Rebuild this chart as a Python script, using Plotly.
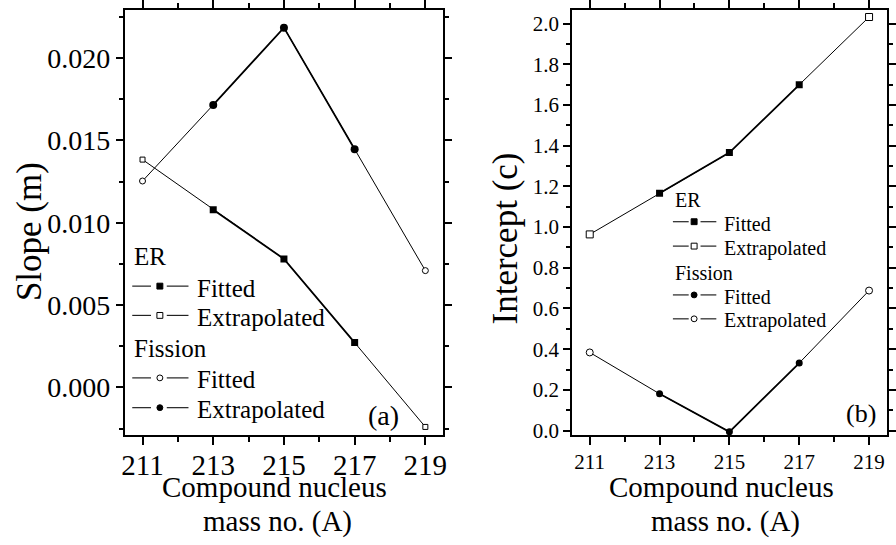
import plotly.graph_objects as go

W, H = 896, 545
SERIF = "Liberation Serif, Times New Roman, serif"

# Compound-nucleus mass numbers; points 1..3 are fitted, the two ends extrapolated
mass = [211, 213, 215, 217, 219]
fitted_idx = [1, 2, 3]
extrap_idx = [0, 4]

# Panel (a): slope m
slope_er = [0.01383, 0.01079, 0.00780, 0.00272, -0.00240]
slope_fission = [0.01253, 0.01715, 0.02184, 0.01446, 0.00709]

# Panel (b): intercept c
icpt_er = [0.964, 1.166, 1.366, 1.699, 2.032]
icpt_fission = [0.384, 0.181, -0.006, 0.332, 0.688]

x_ticks = [211, 213, 215, 217, 219]
x_tick_text = ["211", "213", "215", "217", "219"]


def px_x(px):
    return px / W


def px_y(py):
    return 1 - py / H


fig = go.Figure()


def add_series(xa, ya, yvals, filled_symbol, open_symbol, fsize, osize):
    # thin line through all points
    fig.add_trace(go.Scatter(x=mass, y=yvals, mode="lines", xaxis=xa, yaxis=ya,
                             line=dict(color="black", width=1.0), showlegend=False,
                             hoverinfo="skip"))
    # heavier line over the fitted range
    fig.add_trace(go.Scatter(x=[mass[i] for i in fitted_idx], y=[yvals[i] for i in fitted_idx],
                             mode="lines", xaxis=xa, yaxis=ya,
                             line=dict(color="black", width=1.8), showlegend=False,
                             hoverinfo="skip"))
    # fitted points: filled symbols
    fig.add_trace(go.Scatter(x=[mass[i] for i in fitted_idx], y=[yvals[i] for i in fitted_idx],
                             mode="markers", xaxis=xa, yaxis=ya,
                             marker=dict(symbol=filled_symbol, size=fsize, color="black",
                                         line=dict(color="black", width=0)),
                             showlegend=False))
    # extrapolated points: open symbols
    fig.add_trace(go.Scatter(x=[mass[i] for i in extrap_idx], y=[yvals[i] for i in extrap_idx],
                             mode="markers", xaxis=xa, yaxis=ya,
                             marker=dict(symbol=open_symbol, size=osize, color="white",
                                         line=dict(color="black", width=1)),
                             showlegend=False))


add_series("x", "y", slope_er, "square", "square", 7, 5)
add_series("x", "y", slope_fission, "circle", "circle", 8, 6)
add_series("x2", "y2", icpt_er, "square", "square", 7, 7)
add_series("x2", "y2", icpt_fission, "circle", "circle", 7, 7)

axis_common = dict(showline=True, linecolor="black", linewidth=2, mirror="allticks",
                   ticks="outside", tickcolor="black", tickwidth=1.5,
                   showgrid=False, zeroline=False)

fig.update_layout(
    width=W, height=H,
    margin=dict(l=0, r=0, t=0, b=0),
    paper_bgcolor="white", plot_bgcolor="white",
    showlegend=False,
    font=dict(family=SERIF, color="black"),
    xaxis=dict(domain=[px_x(123.5), px_x(446)], range=[210.5, 219.5], anchor="y",
               tickvals=x_ticks, ticktext=x_tick_text, ticklen=8, ticklabelstandoff=-4,
               minor=dict(dtick=1, tick0=210, ticklen=5, ticks="outside", tickcolor="black", tickwidth=1.5),
               tickfont=dict(size=29, family=SERIF), **axis_common),
    yaxis=dict(domain=[px_y(440), px_y(5)], range=[-0.00286, 0.02292], anchor="x",
               dtick=0.005, tick0=0, tickformat=".3f", ticklen=7,
               minor=dict(dtick=0.0025, ticklen=4, ticks="outside", tickcolor="black", tickwidth=1.5),
               tickfont=dict(size=28, family=SERIF), **axis_common),
    xaxis2=dict(domain=[px_x(577), px_x(895.5)], range=[210.5, 219.5], anchor="y2",
                tickvals=x_ticks, ticktext=x_tick_text, ticklen=8, ticklabelstandoff=-1,
                minor=dict(dtick=1, tick0=210, ticklen=5, ticks="outside", tickcolor="black", tickwidth=1.5),
                tickfont=dict(size=21, family=SERIF), **axis_common),
    yaxis2=dict(domain=[px_y(440.7), px_y(5)], range=[-0.0225, 2.067], anchor="x2",
                dtick=0.2, tick0=0, tickformat=".1f", ticklen=7,
                minor=dict(dtick=0.1, ticklen=4, ticks="outside", tickcolor="black", tickwidth=1.5),
                tickfont=dict(size=21, family=SERIF), **axis_common),
)

annotations = []
shapes = []


def text_at(px, py, text, size, xanchor="center", angle=0):
    annotations.append(dict(x=px_x(px), y=px_y(py), xref="paper", yref="paper",
                            text=text, showarrow=False, xanchor=xanchor, yanchor="middle",
                            textangle=angle, font=dict(family=SERIF, size=size, color="black")))


# axis titles
text_at(27, 232, "Slope (m)", 35, angle=-90)
text_at(275, 494, "Compound nucleus", 29)
text_at(278.5, 529, "mass no. (A)", 29)
text_at(509, 239, "Intercept (c)", 35, angle=-90)
text_at(728.5, 494, "Compound nucleus", 29)
text_at(732, 529, "mass no. (A)", 29)

# panel tags
text_at(385.5, 421, "(a)", 28)
text_at(870, 418, "(b)", 26)


def legend_block(rows, heads, entries, x0, d1, mx, d2, tx, size, msize):
    # rows: y pixel of each line; group headings sit on rows 0 and 3
    ys = rows
    text_at(x0, ys[0] + 2, heads[0], size, xanchor="left")
    text_at(x0, ys[3] + 2, heads[1], size, xanchor="left")
    for (label, kind, filled), py in zip(entries, [ys[1], ys[2], ys[4], ys[5]]):
        for a, b in (d1, d2):
            shapes.append(dict(type="line", xref="paper", yref="paper",
                               x0=px_x(a), x1=px_x(b), y0=px_y(py), y1=px_y(py),
                               line=dict(color="#222", width=1.2)))
        half = msize / 2
        shapes.append(dict(type="rect" if kind == "square" else "circle",
                           xref="paper", yref="paper",
                           x0=px_x(mx - half), x1=px_x(mx + half),
                           y0=px_y(py + half), y1=px_y(py - half),
                           fillcolor="black" if filled else "white",
                           line=dict(color="black", width=1)))
        text_at(tx, py + 2, label, size, xanchor="left")


legend_block([256, 288, 318, 350, 382, 412.5], ["ER", "Fission"],
             [("Fitted", "square", True), ("Extrapolated", "square", False),
              ("Fitted", "circle", False), ("Extrapolated", "circle", True)],
             130.7, (131, 150), 159, (166, 188), 195, 25, 6)

legend_block([198, 222, 247, 273, 297, 321.5], ["ER", "Fission"],
             [("Fitted", "square", True), ("Extrapolated", "square", False),
              ("Fitted", "circle", True), ("Extrapolated", "circle", False)],
             679.3, (679, 695), 700.5, (707, 723), 729, 20, 6)

fig.update_layout(annotations=annotations, shapes=shapes)

fig.write_html("out.html")
